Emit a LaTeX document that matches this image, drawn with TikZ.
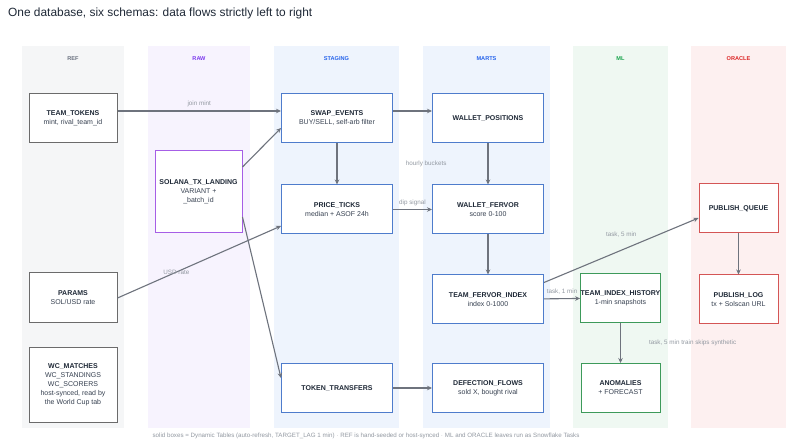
\documentclass[tikz,border=0pt]{standalone}
\usepackage{fontspec}
\setmainfont{Liberation Sans}
\usetikzlibrary{arrows.meta, positioning}
\definecolor{inkA}{HTML}{1F2937}
\definecolor{inkB}{HTML}{374151}
\definecolor{greyA}{HTML}{6B7280}
\definecolor{greyL}{HTML}{9399A2}
\definecolor{edgeG}{HTML}{6E737D}
\definecolor{refBg}{HTML}{F5F6F7}
\definecolor{refLn}{HTML}{6B6B6B}
\definecolor{rawBg}{HTML}{F7F3FE}
\definecolor{rawHd}{HTML}{7C3AED}
\definecolor{rawLn}{HTML}{A65EE6}
\definecolor{stgBg}{HTML}{EEF4FD}
\definecolor{stgHd}{HTML}{2563EB}
\definecolor{stgLn}{HTML}{4E7CCC}
\definecolor{mlBg}{HTML}{EFF8F2}
\definecolor{mlHd}{HTML}{16A34A}
\definecolor{mlLn}{HTML}{3D9A5A}
\definecolor{orBg}{HTML}{FDF0F0}
\definecolor{orHd}{HTML}{DC2626}
\definecolor{orLn}{HTML}{D45555}

\begin{document}
\begin{tikzpicture}[
  x=1pt, y=-1pt,
  lanehead/.style={
    text=#1, font=\fontsize{5.6}{6}\selectfont\bfseries
  },
  tbl/.style={
    draw=#1, fill=white, line width=1pt,
    font=\fontsize{7}{9}\selectfont, text=inkB,
    align=center, inner sep=0pt,
    minimum width=111pt, minimum height=49pt
  },
  narrow/.style={minimum width=88pt},
  slim/.style={minimum width=79pt},
  arr/.style={-{Stealth[length=5pt, width=4.5pt]}, line width=1.1pt, edgeG},
  lbl/.style={font=\fontsize{6.3}{7}\selectfont, text=greyL, inner sep=1pt}
]
\useasboundingbox (0,0) rectangle (800,443);
\fill[white] (0,0) rectangle (800,443);

%% ═══ TITLE ═══
\node[anchor=west, text=inkA, font=\fontsize{11.9}{13}\selectfont, inner sep=0pt]
  (title) at (8,13) {One database, six schemas: data flows strictly left to right};

%% ═══ SCHEMA LANES ═══
\fill[refBg] (22,46) rectangle (124,428);
\fill[rawBg] (148,46) rectangle (250,428);
\fill[stgBg] (274,46) rectangle (399,428);
\fill[stgBg] (423,46) rectangle (550,428);
\fill[mlBg]  (573,46) rectangle (668,428);
\fill[orBg]  (691,46) rectangle (786,428);

\node[lanehead=greyA] (hRef) at (73,59) {REF};
\node[lanehead=rawHd] (hRaw) at (199,59) {RAW};
\node[lanehead=stgHd] (hStg) at (336.5,59) {STAGING};
\node[lanehead=stgHd] (hMarts) at (486.5,59) {MARTS};
\node[lanehead=mlHd]  (hMl) at (620.5,59) {ML};
\node[lanehead=orHd]  (hOracle) at (738.5,59) {ORACLE};

%% ═══ REF ═══
\node[tbl=refLn, narrow] (tokens) at (73,118.5)
  {\textbf{\color{inkA}TEAM\_TOKENS}\\ mint, rival\_team\_id};
\node[tbl=refLn, narrow, minimum height=50pt] (params) at (73,298)
  {\textbf{\color{inkA}PARAMS}\\ SOL/USD rate};
\node[tbl=refLn, narrow, minimum height=74pt, below=24pt of params] (wc)
  {\textbf{\color{inkA}WC\_MATCHES}\\ WC\_STANDINGS\\ WC\_SCORERS\\
   host-synced, read by\\ the World Cup tab};

%% ═══ RAW ═══
\node[tbl=rawLn, minimum width=87pt, minimum height=82pt] (landing) at (198.5,192)
  {\textbf{\color{inkA}SOLANA\_TX\_LANDING}\\ VARIANT +\\ \_batch\_id};

%% ═══ STAGING ═══
\node[tbl=stgLn] (swap) at (337,118.5)
  {\textbf{\color{inkA}SWAP\_EVENTS}\\ BUY/SELL, self-arb filter};
\node[tbl=stgLn, below=41pt of swap] (ticks)
  {\textbf{\color{inkA}PRICE\_TICKS}\\ median + ASOF 24h};
\node[tbl=stgLn] (transfers) at (337,388)
  {\textbf{\color{inkA}TOKEN\_TRANSFERS}};

%% ═══ MARTS ═══
\node[tbl=stgLn, right=39pt of swap] (positions)
  {\textbf{\color{inkA}WALLET\_POSITIONS}};
\node[tbl=stgLn, below=41pt of positions] (fervor)
  {\textbf{\color{inkA}WALLET\_FERVOR}\\ score 0-100};
\node[tbl=stgLn, below=40pt of fervor] (index)
  {\textbf{\color{inkA}TEAM\_FERVOR\_INDEX}\\ index 0-1000};
\node[tbl=stgLn, right=39pt of transfers] (defection)
  {\textbf{\color{inkA}DEFECTION\_FLOWS}\\ sold X, bought rival};

%% ═══ ML ═══
\node[tbl=mlLn, slim] (history) at (620.5,298)
  {\textbf{\color{inkA}TEAM\_INDEX\_HISTORY}\\ 1-min snapshots};
\node[tbl=mlLn, slim, below=40pt of history] (anomalies)
  {\textbf{\color{inkA}ANOMALIES}\\ + FORECAST};

%% ═══ ORACLE ═══
\node[tbl=orLn, slim] (queue) at (738.5,208.5)
  {\textbf{\color{inkA}PUBLISH\_QUEUE}};
\node[tbl=orLn, slim, below=41pt of queue] (log)
  {\textbf{\color{inkA}PUBLISH\_LOG}\\ tx + Solscan URL};

%% ═══ FLOWS ═══
\draw[arr] ([yshift=7.5pt]tokens.east) -- ([yshift=7.5pt]swap.west)
  node[lbl, midway, above=3pt] {join mint};
\draw[arr] ([yshift=25pt]landing.east) -- ([yshift=-9.5pt]swap.west);
\draw[arr] ([yshift=-25pt]landing.east) -- ([yshift=10pt]transfers.west);
\draw[arr] (params.east) -- ([yshift=-16.5pt]ticks.west)
  node[lbl, pos=0.36] {USD rate};
\draw[arr] (swap) -- (ticks);
\draw[arr] ([yshift=7.5pt]swap.east) -- ([yshift=7.5pt]positions.west);
\draw[arr] (ticks) -- (fervor)
  node[lbl, midway, above=2pt] {dip signal};
\draw[arr] (positions) -- (fervor)
  node[lbl, midway, left=40pt] {hourly buckets};
\draw[arr] (fervor) -- (index);
\draw[arr] (transfers) -- (defection);
\draw[arr] (index) -- (history)
  node[lbl, midway, above=3pt] {task, 1 min};
\draw[arr] ([yshift=17pt]index.east) -- ([yshift=-9.5pt]queue.west)
  node[lbl, midway, above=11pt] {task, 5 min};
\draw[arr] (history) -- (anomalies)
  node[lbl, midway, right=27pt] {task, 5 min train skips synthetic};
\draw[arr] (queue) -- (log);

%% ═══ LEGEND ═══
\node[lbl, font=\fontsize{6.2}{7}\selectfont] (legend) at (366,436)
  {solid boxes = Dynamic Tables (auto-refresh, TARGET\_LAG 1 min) $\cdot$ REF is hand-seeded or host-synced $\cdot$ ML and ORACLE leaves run as Snowflake Tasks};

\end{tikzpicture}
\end{document}
